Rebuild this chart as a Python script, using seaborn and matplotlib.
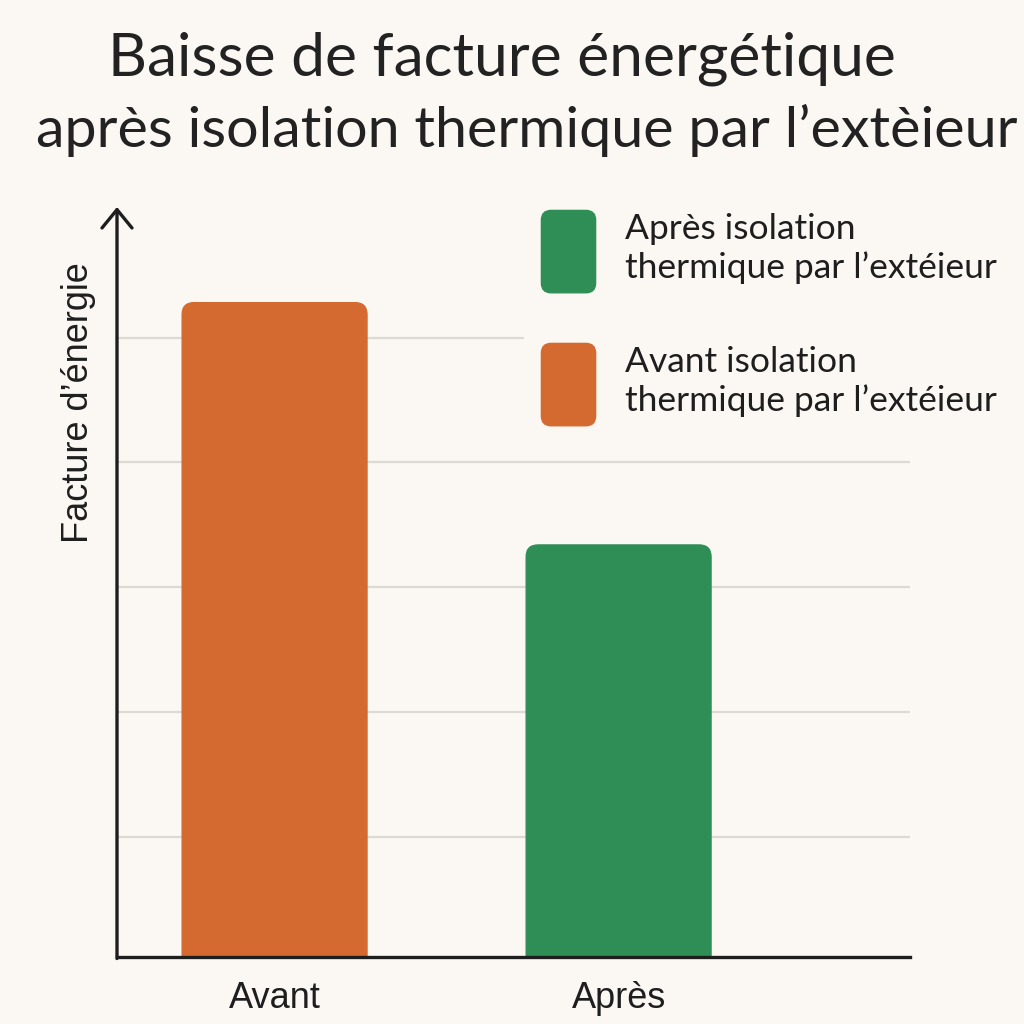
import matplotlib
matplotlib.use("Agg")
import matplotlib.pyplot as plt
import seaborn as sns
from matplotlib.patches import FancyBboxPatch, Patch
from matplotlib.legend_handler import HandlerPatch

# ---- data ----
categories = ["Avant", "Après"]
values = [5.28, 3.34]
grid_levels = [1, 2, 3, 4, 5]
title_line1 = "Baisse de facture énergétique"
title_line2 = "après isolation thermique par l’extèieur"
ylabel = "Facture d’énergie"
legend_labels = ["Après isolation\nthermique par l’extéieur",
                 "Avant isolation\nthermique par l’extéieur"]

# ---- style ----
BG = "#FBF8F4"
ORANGE = "#D46A30"
GREEN = "#2F8E56"
GRID = "#DDD9D3"
INK = "#1E1E1E"
palette = {"Avant": ORANGE, "Après": GREEN}

sns.set_theme(style="white")
plt.rcParams["font.family"] = ["Lato", "DejaVu Sans"]

fig = plt.figure(figsize=(10.24, 10.24), dpi=100, facecolor=BG)
ax = fig.add_axes([117 / 1024, 67 / 1024, 793 / 1024, 750 / 1024])
ax.set_facecolor(BG)

sns.barplot(x=categories, y=values, hue=categories, palette=palette,
            width=0.538, saturation=1, legend=False, ax=ax, zorder=3)

YMIN, YMAX = 0.04, 6.045
ax.set_xlim(-0.458, 1.847)
ax.set_ylim(YMIN, YMAX)

# rounded-top bars built from seaborn's own bar geometry
px_per_x = 793 / (1.847 + 0.458)
px_per_y = 750 / (YMAX - YMIN)
aspect = px_per_x / px_per_y
r = 12 / px_per_x
for p in list(ax.patches):
    x0, y0 = p.get_x(), p.get_y()
    w, h = p.get_width(), p.get_height()
    fc = p.get_facecolor()
    p.set_visible(False)
    fb = FancyBboxPatch((x0 + r, y0 - 1.0), w - 2 * r, h + 1.0 - r * aspect,
                        boxstyle=f"round,pad={r},rounding_size={r}",
                        mutation_aspect=aspect, facecolor=fc,
                        edgecolor=fc, linewidth=0.8, zorder=3, clip_on=True)
    ax.add_patch(fb)

# grid
ax.set_yticks(grid_levels)
ax.set_yticklabels([])
ax.yaxis.grid(True, color=GRID, linewidth=1.6, zorder=0)
ax.xaxis.grid(False)
ax.tick_params(axis="both", length=0)
ax.tick_params(axis="x", pad=17)
for lab in ax.get_xticklabels():
    lab.set_fontfamily(["Liberation Sans", "DejaVu Sans"])
    lab.set_fontsize(26)
    lab.set_color(INK)

# spines / arrow
for s in ["top", "right", "left"]:
    ax.spines[s].set_visible(False)
ax.spines["bottom"].set_color(INK)
ax.spines["bottom"].set_linewidth(2.4)
ax.spines["bottom"].set_zorder(5)
ax.annotate("", xy=(0, 1.0), xytext=(0, -0.002), xycoords="axes fraction",
            arrowprops=dict(arrowstyle="->,head_length=1.1,head_width=0.9",
                            color=INK, lw=2.4, shrinkA=0, shrinkB=0),
            zorder=6, annotation_clip=False)

ax.set_ylabel(ylabel, fontfamily=["Liberation Sans", "DejaVu Sans"],
              fontsize=26, color=INK)
ax.yaxis.set_label_coords(-0.0265, 0.739)
ax.set_xlabel("")

# legend with rounded swatches
def rounded_swatch(legend, orig_handle, xdescent, ydescent, width, height, fontsize):
    rr = 7
    return FancyBboxPatch((-xdescent + rr, -ydescent + rr), width - 2 * rr, height - 2 * rr,
                          boxstyle=f"round,pad={rr},rounding_size={rr}")

handles = [Patch(facecolor=GREEN, edgecolor=GREEN, label=legend_labels[0]),
           Patch(facecolor=ORANGE, edgecolor=ORANGE, label=legend_labels[1])]
leg = ax.legend(handles=handles, loc="upper left",
                bbox_to_anchor=(506 / 1024, 1 - 175 / 1024),
                bbox_transform=fig.transFigure,
                prop={"family": ["Lato", "DejaVu Sans"], "size": 25.5},
                handlelength=1.53, handleheight=3.2, handletextpad=0.83,
                labelspacing=1.43, borderpad=0.5, frameon=True,
                facecolor=BG, edgecolor="none", framealpha=1.0,
                handler_map={Patch: HandlerPatch(patch_func=rounded_swatch)})
leg.set_zorder(10)
for t in leg.get_texts():
    t.set_color(INK)
    t.set_linespacing(1.25)

# title
fig.text(0.49, 1 - 75 / 1024, title_line1, ha="center", va="baseline",
         fontsize=43.5, color="#222222")
fig.text(0.514, 1 - 147 / 1024, title_line2, ha="center", va="baseline",
         fontsize=41.3, color="#222222")

fig.savefig("out.png", dpi=100, facecolor=BG)
